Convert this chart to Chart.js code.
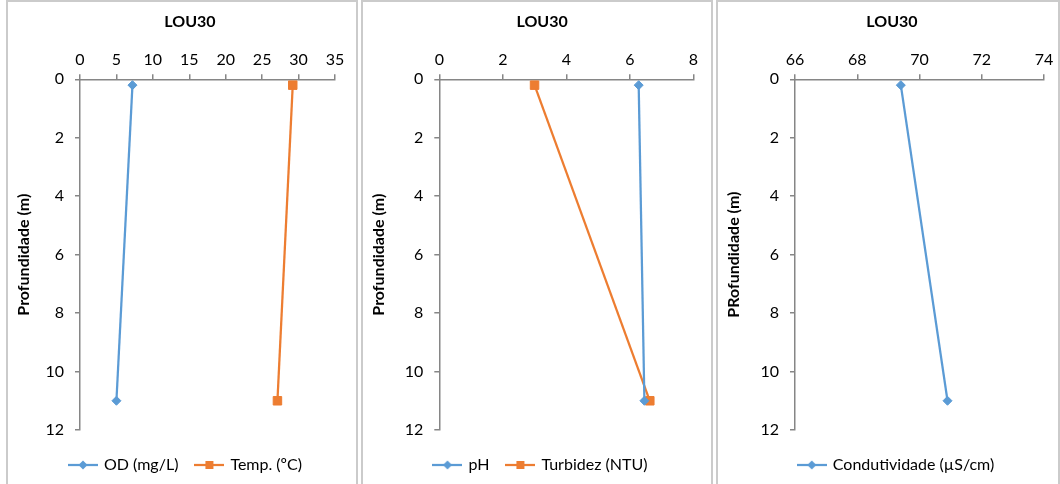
<!DOCTYPE html>
<html>
<head>
<meta charset="utf-8">
<script src="https://cdn.jsdelivr.net/npm/chart.js@4.4.1/dist/chart.umd.min.js"></script>
<style>
  html, body { margin: 0; padding: 0; width: 1060px; height: 484px; overflow: hidden; background: #fff; }
  canvas { position: absolute; top: 0; }
  .frame { position: absolute; top: 0; height: 520px; border: 2px solid #cbcbcb; box-sizing: border-box; pointer-events: none; }
</style>
</head>
<body>
<canvas id="c1" width="350" height="483" style="left:7px"></canvas>
<canvas id="c2" width="350" height="483" style="left:362px"></canvas>
<canvas id="c3" width="343" height="483" style="left:717px"></canvas>
<div class="frame" style="left:6px;width:352px"></div>
<div class="frame" style="left:361px;width:352px"></div>
<div class="frame" style="left:716px;width:344px"></div>
<script>
// Sampling depths (m) shared by all profiles
const depth = [0.2, 11];

// Profile values at each depth
const odValues   = [7.2, 5.0];     // OD (mg/L)
const tempValues = [29.2, 27.1];   // Temp. (ºC)
const phValues   = [6.28, 6.46];   // pH
const turbValues = [3.0, 6.63];    // Turbidez (NTU)
const condValues = [69.4, 70.9];   // Condutividade (µS/cm)

// Tick labels
const depthTicks = [0, 2, 4, 6, 8, 10, 12];
const xTicks1 = [0, 5, 10, 15, 20, 25, 30, 35];
const xTicks2 = [0, 2, 4, 6, 8];
const xTicks3 = [66, 68, 70, 72, 74];

const stationName = 'LOU30';

const BLUE = '#5B9BD5';
const ORANGE = '#ED7D31';
const AXIS = '#868686';
const FONT = 'Lato, "Open Sans", sans-serif';

Chart.defaults.font.family = FONT;
Chart.defaults.color = '#000';

function toPoints(values) {
  return values.map((v, i) => ({ x: v, y: depth[i] }));
}

// Small line-with-marker swatch used in the legend
function legendIcon(color, shape) {
  const c = document.createElement('canvas');
  c.width = 30; c.height = 12;
  const g = c.getContext('2d');
  g.strokeStyle = color; g.fillStyle = color; g.lineWidth = 2.25;
  g.beginPath(); g.moveTo(0, 6); g.lineTo(30, 6); g.stroke();
  g.beginPath();
  if (shape === 'rect') {
    g.rect(11, 2, 8, 8);
  } else {
    g.moveTo(15, 1.5); g.lineTo(19.5, 6); g.lineTo(15, 10.5); g.lineTo(10.5, 6); g.closePath();
  }
  g.fill();
  return c;
}

// Nudges the title and legend boxes sideways after layout
function boxShift(titleDx, legendDx) {
  return {
    id: 'boxShift',
    afterLayout(chart) {
      if (chart.legend) { chart.legend.left += legendDx; chart.legend.right += legendDx; }
      if (chart.titleBlock) { chart.titleBlock.left += titleDx; chart.titleBlock.right += titleDx; }
    }
  };
}

function buildPanel(id, cfg) {
  const ticks = cfg.xTicks;
  const icons = cfg.series.map(s => legendIcon(s.color, s.shape));
  new Chart(document.getElementById(id), {
    type: 'line',
    data: {
      datasets: cfg.series.map(s => ({
        label: s.label,
        data: toPoints(s.values),
        xAxisID: 'x',
        yAxisID: 'y',
        borderColor: s.color,
        backgroundColor: s.color,
        borderWidth: 2.25,
        pointStyle: s.shape,
        pointRadius: s.shape === 'rect' ? 6 : 4.5,
        pointBorderWidth: 1,
        pointHoverRadius: s.shape === 'rect' ? 6 : 4.5,
        tension: 0,
        fill: false
      }))
    },
    options: {
      responsive: false,
      animation: false,
      devicePixelRatio: 1,
      events: [],
      layout: { padding: { left: 4, right: cfg.padRight, top: 0, bottom: 0 } },
      plugins: {
        title: {
          display: true, text: stationName, color: '#000',
          font: { size: 16, weight: 'bold' },
          padding: { top: 12, bottom: 0 }
        },
        legend: {
          position: 'bottom',
          labels: {
            usePointStyle: true,
            pointStyleWidth: 26,
            padding: 18,
            color: '#000',
            font: { size: 16 },
            generateLabels(chart) {
              const items = Chart.defaults.plugins.legend.labels.generateLabels(chart);
              items.forEach(it => { it.pointStyle = icons[it.datasetIndex]; });
              return items;
            }
          }
        },
        tooltip: { enabled: false }
      },
      scales: {
        x: {
          type: 'linear', position: 'top',
          min: ticks[0], max: ticks[ticks.length - 1],
          ticks: { stepSize: ticks[1] - ticks[0], padding: 5, color: '#000', font: { size: 16 } },
          grid: { drawOnChartArea: false, drawTicks: true, tickLength: 5, color: AXIS, lineWidth: 1.5 },
          border: { color: AXIS, width: 1.5 },
          afterFit(s) { s.height = 48.1; }
        },
        xGap: {
          type: 'linear', position: 'bottom', display: true,
          ticks: { display: false },
          grid: { display: false },
          border: { display: false },
          afterFit(s) { s.height = 9; }
        },
        y: {
          type: 'linear', reverse: true,
          min: depthTicks[0], max: depthTicks[depthTicks.length - 1],
          ticks: { stepSize: depthTicks[1] - depthTicks[0], padding: 11, color: '#000', font: { size: 16 } },
          grid: { drawOnChartArea: false, drawTicks: true, tickLength: 5, color: AXIS, lineWidth: 1.5 },
          border: { color: AXIS, width: 1.5 },
          title: {
            display: true, text: cfg.yTitle, color: '#000',
            font: { size: 16, weight: 'bold' },
            padding: { top: 3.4, bottom: 0 }
          },
          afterFit(s) { s.width = cfg.chartLeft - 4; }
        }
      }
    },
    plugins: [boxShift(cfg.titleDx, cfg.legendDx)]
  });
}

buildPanel('c1', {
  xTicks: xTicks1, yTitle: 'Profundidade (m)', chartLeft: 73, padRight: 22, legendDx: 13, titleDx: 17,
  series: [
    { label: 'OD (mg/L)', values: odValues, color: BLUE, shape: 'rectRot' },
    { label: 'Temp. (ºC)', values: tempValues, color: ORANGE, shape: 'rect' }
  ]
});

buildPanel('c2', {
  xTicks: xTicks2, yTitle: 'Profundidade (m)', chartLeft: 77.3, padRight: 18.7, legendDx: 11.3, titleDx: 12.5,
  series: [
    { label: 'pH', values: phValues, color: BLUE, shape: 'rectRot' },
    { label: 'Turbidez (NTU)', values: turbValues, color: ORANGE, shape: 'rect' }
  ]
});

buildPanel('c3', {
  xTicks: xTicks3, yTitle: 'PRofundidade (m)', chartLeft: 78, padRight: 16, legendDx: 14, titleDx: 9.5,
  series: [
    { label: 'Condutividade (µS/cm)', values: condValues, color: BLUE, shape: 'rectRot' }
  ]
});
</script>
</body>
</html>
